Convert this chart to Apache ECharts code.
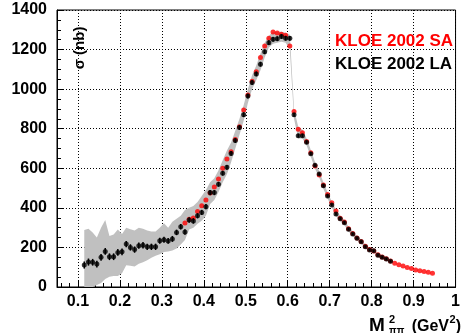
<!DOCTYPE html>
<html><head><meta charset="utf-8">
<script src="https://cdn.jsdelivr.net/npm/echarts@6/dist/echarts.min.js"></script>
<style>html,body{margin:0;padding:0;background:#fff}#c{width:463px;height:333px}</style>
</head><body><div id="c"></div>
<script>
// KLOE 2002 LA (black points with error bars)
const xLA = [0.115,0.125,0.135,0.145,0.155,0.165,0.175,0.185,0.195,0.205,0.215,0.225,0.235,0.245,0.255,0.265,0.275,0.285,0.295,0.305,0.315,0.325,0.335,0.345,0.355,0.365,0.375,0.385,0.395,0.405,0.415,0.425,0.435,0.445,0.455,0.465,0.475,0.485,0.495,0.505,0.515,0.525,0.535,0.545,0.555,0.565,0.575,0.585,0.595,0.605,0.615,0.625,0.635,0.645,0.655,0.665,0.675,0.685,0.695,0.705,0.715,0.725,0.735,0.745,0.755,0.765,0.775,0.785,0.795,0.805,0.815,0.825,0.835,0.845];
const yLA = [111,126,125,116,150,180,153,153,175,178,217,200,189,209,211,203,203,203,234,239,233,243,276,305,278,339,334,360,377,406,477,477,519,575,605,675,740,806,871,965,1033,1077,1126,1189,1235,1252,1255,1266,1257,1257,870,765,765,731,674,615,571,512,460,415,369,345,325,292,268,246,229,204,187,183,160,150,142,130];
const errLA = [18,18,17,17,17,17,17,17,17,17,16,16,16,16,16,16,16,16,15,15,15,15,14,14,14,14,14,13,13,13,13,13,12,12,12,12,12,12,12,12,12,12,12,12,12,12,12,12,12,12,10,9,9,9,8,8,8,8,8,7,7,7,7,7,6,6,6,6,6,6,6,6,6,6];
// systematic band around LA
const bandLo = [0,0,0,10,20,40,52,55,55,70,110,108,103,118,125,135,148,158,165,177,180,185,195,215,237,290,300,320,335,360,420,440,480,530,570,630,700,770,840,930,1000,1045,1095,1160,1210,1230,1235,1240,1235,1200,850,750,750,715,658,598,553,496,447,402,358,333,313,281,258,236,219,195,178,173,151,141,133,121];
const bandHi = [288,294,275,250,300,339,258,265,290,268,300,292,285,300,295,285,280,280,300,322,300,330,345,360,389,400,410,430,460,490,530,550,590,640,690,730,790,850,920,1000,1070,1120,1180,1235,1270,1290,1290,1290,1285,1275,900,810,795,750,692,632,586,528,478,432,390,360,338,305,280,257,240,215,198,192,171,160,151,139];
// KLOE 2002 SA (red points)
const xSA = [0.355,0.365,0.375,0.385,0.395,0.405,0.415,0.425,0.435,0.445,0.455,0.465,0.475,0.485,0.495,0.505,0.515,0.525,0.535,0.545,0.555,0.565,0.575,0.585,0.595,0.605,0.615,0.625,0.635,0.645,0.655,0.665,0.675,0.685,0.695,0.705,0.715,0.725,0.735,0.745,0.755,0.765,0.775,0.785,0.795,0.805,0.815,0.825,0.835,0.845,0.855,0.865,0.875,0.885,0.895,0.905,0.915,0.925,0.935,0.945];
const ySA = [323,342,349,381,411,440,475,505,546,600,647,684,746,810,894,970,1040,1088,1160,1218,1257,1289,1284,1277,1273,1218,887,797,780,735,678,612,566,515,468,426,384,348,328,295,270,248,230,206,190,182,163,152,143,131,120,113,106,99,93,86,82,78,75,69];
// axis ticks
const xMajorTicks = [0.1,0.2,0.3,0.4,0.5,0.6,0.7,0.8,0.9,1.0];
const xMinorTicks = [0.06,0.08,0.12,0.14,0.16,0.18,0.22,0.24,0.26,0.28,0.32,0.34,0.36,0.38,0.42,0.44,0.46,0.48,0.52,0.54,0.56,0.58,0.62,0.64,0.66,0.68,0.72,0.74,0.76,0.78,0.82,0.84,0.86,0.88,0.92,0.94,0.96,0.98];

const FONT = 'Liberation Sans';
const chart = echarts.init(document.getElementById('c'), null, {renderer:'canvas'});
const lblStyle = {color:'#000', fontFamily:FONT, fontWeight:'bold', fontSize:16};

chart.setOption({
  animation:false,
  backgroundColor:'#fff',
  grid:{left:57, top:10, width:404, height:277, show:true, borderColor:'#000', borderWidth:1, backgroundColor:'transparent'},
  xAxis:[{
    type:'value', min:0.05, max:1.0, position:'bottom',
    axisLine:{show:true, onZero:false, lineStyle:{color:'#000', width:1}},
    axisTick:{show:true, inside:true, length:7, customValues:xMajorTicks, lineStyle:{color:'#000'}},
    axisLabel:Object.assign({margin:7, customValues:xMajorTicks, formatter:v=>String(+(+v).toFixed(1))}, lblStyle),
    splitLine:{show:true, lineStyle:{color:'#000', type:[1,2], width:1}}
  },{
    type:'value', min:0.05, max:1.0, position:'bottom',
    axisLine:{show:false},
    axisTick:{show:true, inside:true, length:4, customValues:xMinorTicks, lineStyle:{color:'#000'}},
    axisLabel:{show:false},
    splitLine:{show:false}
  }],
  yAxis:{
    type:'value', min:0, max:1400, interval:200,
    axisLine:{show:true, lineStyle:{color:'#000', width:1}},
    axisTick:{show:true, inside:true, length:7, lineStyle:{color:'#000'}},
    minorTick:{show:true, splitNumber:4, length:4, lineStyle:{color:'#000'}},
    axisLabel:Object.assign({margin:10, formatter:v=>String(Math.round(v))}, lblStyle),
    splitLine:{show:true, lineStyle:{color:'#000', type:[1,2], width:1}}
  },
  series:[
    {
      type:'custom', xAxisIndex:0, clip:true, silent:true, z:1,
      data: xLA.map((x,i)=>[x, bandLo[i], bandHi[i]]),
      encode:{x:0, y:[1,2]},
      renderItem:function(params, api){
        if (params.dataIndex !== 0) return null;
        const pts = [];
        for (let i=0;i<xLA.length;i++) pts.push(api.coord([xLA[i], bandHi[i]]));
        for (let i=xLA.length-1;i>=0;i--) pts.push(api.coord([xLA[i], bandLo[i]]));
        return {type:'polygon', shape:{points:pts}, style:{fill:'#c0c0c0', stroke:null}};
      }
    },
    {
      type:'scatter', xAxisIndex:0, z:3, symbol:'circle', symbolSize:5,
      itemStyle:{color:'#ff0000'},
      data: xSA.map((x,i)=>[x, ySA[i]])
    },
    {
      type:'custom', xAxisIndex:0, z:4, clip:true,
      data: xLA.map((x,i)=>[x, yLA[i]-errLA[i], yLA[i]+errLA[i]]),
      encode:{x:0, y:[1,2]},
      renderItem:function(params, api){
        const a = api.coord([api.value(0), api.value(1)]);
        const b = api.coord([api.value(0), api.value(2)]);
        return {type:'line', shape:{x1:a[0], y1:a[1], x2:b[0], y2:b[1]}, style:{stroke:'#000', lineWidth:1.5}};
      }
    },
    {
      type:'scatter', xAxisIndex:0, z:5, symbol:'circle', symbolSize:5,
      itemStyle:{color:'#000'},
      data: xLA.map((x,i)=>[x, yLA[i]])
    }
  ],
  graphic:[
    {type:'text', left:335, top:33, z:10, style:{text:'KLOE 2002 SA', fill:'#ff0000', font:'bold 17px "Liberation Sans"'}},
    {type:'text', left:335, top:56, z:10, style:{text:'KLOE 2002 LA', fill:'#000', font:'bold 17px "Liberation Sans"'}},
    {type:'text', x:80, y:48, rotation:Math.PI/2, z:10, style:{text:'σ (nb)', fill:'#000', font:'bold 15px "Liberation Sans"', align:'center', verticalAlign:'middle'}},
    {type:'text', x:369, y:335, z:10, style:{text:'M', fill:'#000', font:'bold 19px "Liberation Sans"', align:'left', verticalAlign:'bottom'}},
    {type:'text', x:389, y:325, z:10, style:{text:'2', fill:'#000', font:'bold 11px "Liberation Sans"', align:'left', verticalAlign:'bottom'}},
    {type:'text', x:389, y:326, z:10, style:{text:'ππ', fill:'#000', font:'bold 10px "Liberation Sans"', align:'left', verticalAlign:'top'}},
    {type:'text', x:449, y:335, z:10, style:{text:'(GeV', fill:'#000', font:'bold 16px "Liberation Sans"', align:'right', verticalAlign:'bottom'}},
    {type:'text', x:455.5, y:325, z:10, style:{text:'2', fill:'#000', font:'bold 11px "Liberation Sans"', align:'right', verticalAlign:'bottom'}},
    {type:'text', x:461, y:335, z:10, style:{text:')', fill:'#000', font:'bold 16px "Liberation Sans"', align:'right', verticalAlign:'bottom'}}
  ]
});
</script></body></html>
